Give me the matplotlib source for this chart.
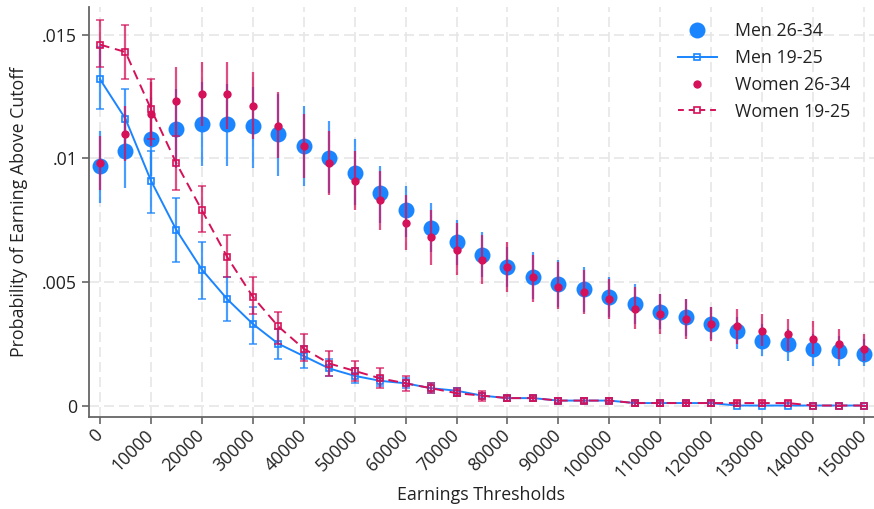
import matplotlib
matplotlib.use("Agg")
import matplotlib.pyplot as plt
from matplotlib.lines import Line2D
from matplotlib.colors import to_rgba
import numpy as np

plt.rcParams['font.family'] = ['Open Sans', 'DejaVu Sans']

thresholds = list(range(0, 150001, 5000))

men_2634 = [0.0097, 0.0103, 0.0108, 0.0112, 0.0114, 0.0114, 0.0113, 0.0110, 0.0105, 0.0100,
            0.0094, 0.0086, 0.0079, 0.0072, 0.0066, 0.0061, 0.0056, 0.0052, 0.0049, 0.0047,
            0.0044, 0.0041, 0.0038, 0.0036, 0.0033, 0.0030, 0.0026, 0.0025, 0.0023, 0.0022, 0.0021]
men_2634_lo = [0.0082, 0.0088, 0.0093, 0.0096, 0.0097, 0.0097, 0.0096, 0.0093, 0.0089, 0.0086,
               0.0081, 0.0074, 0.0068, 0.0062, 0.0057, 0.0052, 0.0048, 0.0043, 0.0040, 0.0038,
               0.0036, 0.0033, 0.0031, 0.0028, 0.0027, 0.0023, 0.0020, 0.0018, 0.0016, 0.0016, 0.0016]
men_2634_hi = [0.0111, 0.0118, 0.0125, 0.0128, 0.0131, 0.0130, 0.0129, 0.0126, 0.0121, 0.0115,
               0.0108, 0.0097, 0.0089, 0.0082, 0.0075, 0.0070, 0.0064, 0.0062, 0.0059, 0.0056,
               0.0052, 0.0049, 0.0045, 0.0043, 0.0040, 0.0036, 0.0033, 0.0031, 0.0029, 0.0028, 0.0027]

men_1925 = [0.0132, 0.0116, 0.0091, 0.0071, 0.0055, 0.0043, 0.0033, 0.0025, 0.0020, 0.0015,
            0.0012, 0.0010, 0.0009, 0.0007, 0.0006, 0.0004, 0.0003, 0.0003, 0.0002, 0.0002,
            0.0002, 0.0001, 0.0001, 0.0001, 0.0001, 0.0000, 0.0000, 0.0000, 0.0000, 0.0000, 0.0000]
men_1925_lo = [0.0120, 0.0104, 0.0078, 0.0058, 0.0043, 0.0034, 0.0025, 0.0019, 0.0015, 0.0012,
               0.0009, 0.0008, 0.0007, 0.0005, 0.0004, 0.0003, 0.0002, 0.0002, 0.0001, 0.0001,
               0.0001, 0.0000, 0.0000, 0.0000, 0.0000, 0.0000, 0.0000, 0.0000, 0.0000, 0.0000, 0.0000]
men_1925_hi = [0.0145, 0.0128, 0.0103, 0.0084, 0.0066, 0.0052, 0.0040, 0.0031, 0.0024, 0.0019,
               0.0015, 0.0012, 0.0011, 0.0009, 0.0007, 0.0005, 0.0004, 0.0004, 0.0003, 0.0003,
               0.0003, 0.0002, 0.0002, 0.0002, 0.0002, 0.0000, 0.0000, 0.0000, 0.0000, 0.0000, 0.0000]

women_2634 = [0.0098, 0.0110, 0.0118, 0.0123, 0.0126, 0.0126, 0.0121, 0.0113, 0.0105, 0.0098,
              0.0091, 0.0083, 0.0074, 0.0068, 0.0063, 0.0059, 0.0056, 0.0052, 0.0048, 0.0046,
              0.0043, 0.0039, 0.0037, 0.0035, 0.0033, 0.0032, 0.0030, 0.0029, 0.0027, 0.0025, 0.0023]
women_2634_lo = [0.0087, 0.0099, 0.0105, 0.0109, 0.0113, 0.0112, 0.0108, 0.0100, 0.0092, 0.0085,
                 0.0079, 0.0071, 0.0063, 0.0057, 0.0053, 0.0049, 0.0046, 0.0042, 0.0039, 0.0037,
                 0.0035, 0.0031, 0.0029, 0.0027, 0.0026, 0.0025, 0.0024, 0.0022, 0.0021, 0.0019, 0.0018]
women_2634_hi = [0.0109, 0.0121, 0.0131, 0.0137, 0.0139, 0.0139, 0.0135, 0.0127, 0.0118, 0.0111,
                 0.0103, 0.0095, 0.0085, 0.0079, 0.0074, 0.0069, 0.0066, 0.0061, 0.0058, 0.0055,
                 0.0051, 0.0048, 0.0045, 0.0043, 0.0040, 0.0039, 0.0037, 0.0035, 0.0034, 0.0031, 0.0029]

women_1925 = [0.0146, 0.0143, 0.0120, 0.0098, 0.0079, 0.0060, 0.0044, 0.0032, 0.0023, 0.0017,
              0.0014, 0.0011, 0.0009, 0.0007, 0.0005, 0.0004, 0.0003, 0.0003, 0.0002, 0.0002,
              0.0002, 0.0001, 0.0001, 0.0001, 0.0001, 0.0001, 0.0001, 0.0001, 0.0000, 0.0000, 0.0000]
women_1925_lo = [0.0137, 0.0132, 0.0108, 0.0087, 0.0070, 0.0052, 0.0037, 0.0025, 0.0018, 0.0012,
                 0.0010, 0.0007, 0.0006, 0.0005, 0.0004, 0.0002, 0.0002, 0.0002, 0.0001, 0.0001,
                 0.0001, 0.0000, 0.0000, 0.0000, 0.0000, 0.0000, 0.0000, 0.0000, 0.0000, 0.0000, 0.0000]
women_1925_hi = [0.0156, 0.0154, 0.0132, 0.0109, 0.0089, 0.0069, 0.0052, 0.0038, 0.0029, 0.0022,
                 0.0018, 0.0015, 0.0012, 0.0009, 0.0007, 0.0006, 0.0004, 0.0004, 0.0003, 0.0003,
                 0.0003, 0.0002, 0.0002, 0.0002, 0.0002, 0.0002, 0.0002, 0.0002, 0.0000, 0.0000, 0.0000]

x_ticks = list(range(0, 150001, 10000))
y_ticks = [0, 0.005, 0.01, 0.015]
y_ticklabels = ["0", ".005", ".01", ".015"]
series_labels = ["Men 26-34", "Men 19-25", "Women 26-34", "Women 19-25"]

BLUE = "#1A85FF"
RED = "#D41159"
FS = 12.8


def yerr(mid, lo, hi):
    mid, lo, hi = map(np.asarray, (mid, lo, hi))
    return np.vstack([np.clip(mid - lo, 0, None), np.clip(hi - mid, 0, None)])


fig = plt.figure(figsize=(8.74, 5.09), dpi=100)
ax = fig.add_axes([0.1018, 0.1807, 0.8982, 0.805])

# grid
ax.set_axisbelow(True)
ax.grid(True, color="#e6e6e6", linestyle=(0, (6, 3)), linewidth=1.2)

eb_kw = dict(elinewidth=1.6, capsize=3.2, capthick=1.6)

ax.errorbar(thresholds, men_2634, yerr=yerr(men_2634, men_2634_lo, men_2634_hi),
            fmt="o", color=BLUE, markersize=11.5, markeredgewidth=0,
            ecolor=to_rgba(BLUE, 0.8), zorder=2, **eb_kw)
ax.errorbar(thresholds, men_1925, yerr=yerr(men_1925, men_1925_lo, men_1925_hi),
            fmt="-s", color=BLUE, markersize=5, markerfacecolor="none",
            markeredgewidth=1.2, linewidth=1.4,
            ecolor=to_rgba(BLUE, 0.8), zorder=3, **eb_kw)
ax.errorbar(thresholds, women_2634, yerr=yerr(women_2634, women_2634_lo, women_2634_hi),
            fmt="o", color=RED, markersize=6, markeredgewidth=0,
            ecolor=to_rgba(RED, 0.75), zorder=4, **eb_kw)
ax.errorbar(thresholds, women_1925, yerr=yerr(women_1925, women_1925_lo, women_1925_hi),
            fmt="--s", color=RED, markersize=5, markerfacecolor="none",
            markeredgewidth=1.2, linewidth=1.4, dashes=(5, 3),
            ecolor=to_rgba(RED, 0.75), zorder=5, **eb_kw)

ax.set_xlim(-2160, 151950)
ax.set_ylim(-0.000465, 0.01611)
ax.set_xticks(x_ticks)
ax.set_xticklabels([str(t) for t in x_ticks], rotation=45, ha="right",
                   va="center", rotation_mode="anchor")
ax.set_yticks(y_ticks)
ax.set_yticklabels(y_ticklabels)

for s in ("top", "right"):
    ax.spines[s].set_visible(False)
for s in ("left", "bottom"):
    ax.spines[s].set_color("#666666")
    ax.spines[s].set_linewidth(1.3)
ax.tick_params(axis="both", colors="#666666", length=5, width=1.2,
               labelcolor="#222222", labelsize=FS)
ax.tick_params(axis="x", pad=6)

ax.set_xlabel("Earnings Thresholds", fontsize=FS, color="#222222", labelpad=3)
ax.set_ylabel("Probability of Earning Above Cutoff", fontsize=FS, color="#222222",
              labelpad=10)

handles = [
    Line2D([], [], marker="o", linestyle="none", color=BLUE, markersize=11.5,
           markeredgewidth=0),
    Line2D([], [], marker="s", linestyle="-", color=BLUE, markersize=5,
           markerfacecolor="none", markeredgewidth=1.2, linewidth=1.4),
    Line2D([], [], marker="o", linestyle="none", color=RED, markersize=6,
           markeredgewidth=0),
    Line2D([], [], marker="s", linestyle="--", color=RED, markersize=5,
           markerfacecolor="none", markeredgewidth=1.2, linewidth=1.4, dashes=(3, 2.5)),
]
ax.legend(handles, series_labels, loc="upper right", bbox_to_anchor=(0.99, 1.003),
          frameon=False, fontsize=FS, handlelength=2.2, labelspacing=0.5,
          handletextpad=1.0, labelcolor="#222222")

fig.savefig("out.png", dpi=100)
